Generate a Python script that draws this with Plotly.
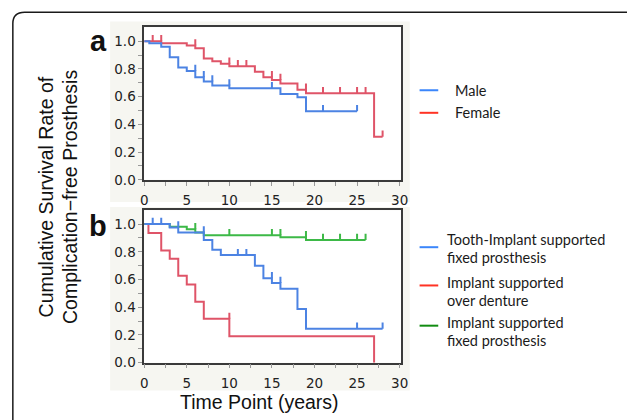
import plotly.graph_objects as go

# ---------------- data ----------------
# Panel a
male_t = [0, 0.6, 2, 3, 4, 5, 6, 7, 8, 10, 16, 18, 19, 25]
male_s = [1.0, 0.985, 0.96, 0.885, 0.81, 0.785, 0.74, 0.71, 0.68, 0.66, 0.62, 0.595, 0.495, 0.495]
male_cens = [6, 7, 8, 10, 15, 21, 25]

fem_t = [0, 2, 5, 6, 7, 8, 9, 10, 13, 14, 15, 16, 18, 19, 27, 28]
fem_s = [1.0, 0.985, 0.97, 0.95, 0.875, 0.855, 0.837, 0.82, 0.78, 0.74, 0.72, 0.695, 0.65, 0.625, 0.31, 0.31]
fem_cens = [1, 2, 6, 10, 11, 12, 15, 16, 19, 21, 23, 25, 26, 28]

# Panel b
tooth_t = [0, 3, 4, 7, 8, 9, 13, 14, 15, 16, 18, 19, 28]
tooth_s = [1.0, 0.976, 0.94, 0.885, 0.815, 0.776, 0.70, 0.61, 0.575, 0.533, 0.387, 0.245, 0.245]
tooth_cens = [1, 2, 4, 7, 11, 12, 15, 16, 25, 28]

over_t = [0, 0.5, 2, 3, 4, 5, 6, 7, 10, 27]
over_s = [1.0, 0.936, 0.81, 0.75, 0.627, 0.564, 0.44, 0.316, 0.19, 0.0]
over_cens = [10]

fixed_t = [0, 3, 5, 6, 7, 16, 19, 26]
fixed_s = [1.0, 0.98, 0.963, 0.94, 0.92, 0.905, 0.885, 0.885]
fixed_cens = [6, 10, 15, 16, 19, 21, 23, 25, 26]

x_ticks = [0, 5, 10, 15, 20, 25, 30]
y_ticks = [0.0, 0.2, 0.4, 0.6, 0.8, 1.0]

legend_a = ["Male", "Female"]
legend_b = [["Tooth-Implant supported", "fixed prosthesis"],
            ["Implant supported", "over denture"],
            ["Implant supported", "fixed prosthesis"]]

# ---------------- styles ----------------
BLUE = "#4c83e3"
RED = "#df5468"
GREEN = "#3db947"
LEG_BLUE = "#3b86fb"
LEG_RED = "#ff3324"
LEG_GREEN = "#118c11"
TICK_H = 0.045

W, H = 627, 420


def px(x):
    return x / W


def py(y):
    return 1 - y / H


def censor_levels(times, surv, cens):
    out = []
    for c in cens:
        lvl = surv[0]
        for t, s in zip(times, surv):
            if t < c:
                lvl = s
        out.append(lvl)
    return out


fig = go.Figure()


def add_series(t, s, cens, color, xa, ya):
    fig.add_trace(go.Scatter(x=t, y=s, mode="lines", line=dict(color=color, width=2, shape="hv"),
                             xaxis=xa, yaxis=ya, hoverinfo="skip"))
    lv = censor_levels(t, s, cens)
    fig.add_trace(go.Scatter(x=cens, y=lv, mode="markers",
                             marker=dict(size=1, color="rgba(0,0,0,0)"),
                             error_y=dict(type="data", symmetric=False,
                                          array=[TICK_H] * len(cens), arrayminus=[0] * len(cens),
                                          width=0, thickness=2, color=color),
                             xaxis=xa, yaxis=ya, hoverinfo="skip"))


add_series(fem_t, fem_s, fem_cens, RED, "x", "y")
add_series(male_t, male_s, male_cens, BLUE, "x", "y")
add_series(over_t, over_s, over_cens, RED, "x2", "y2")
add_series(fixed_t, fixed_s, fixed_cens, GREEN, "x2", "y2")
add_series(tooth_t, tooth_s, tooth_cens, BLUE, "x2", "y2")

PL, PR = 142.7, 404
A_TOP, A_BOT = 27.9, 183.3
B_TOP, B_BOT = 214.3, 369.7
XDOM = [px(PL), px(PR)]
axis_common = dict(showline=True, mirror=True, linecolor="#3a3a3a", linewidth=1.5,
                   ticks="outside", ticklen=4, tickcolor="#999999", tickwidth=1,
                   showgrid=False, zeroline=False,
                   tickfont=dict(family="DejaVu Sans", size=13.5, color="#222222"))

xa = dict(axis_common, range=[0, 30.15], tickmode="array", tickvals=x_ticks,
          ticktext=[str(v) for v in x_ticks], ticklabelstandoff=3,
          minor=dict(tickmode="array", tickvals=[v + 2.5 for v in x_ticks[:-1]],
                     ticks="outside", ticklen=4, tickcolor="#999999"))
ya = dict(axis_common, range=[0, 1.1], tickmode="array", tickvals=y_ticks,
          ticktext=["%.1f" % v for v in y_ticks],
          minor=dict(tickmode="array", tickvals=[round(v + 0.1, 1) for v in y_ticks[:-1]],
                     ticks="outside", ticklen=4, tickcolor="#999999"))

fig.update_layout(
    width=W, height=H, margin=dict(l=0, r=0, t=0, b=0),
    paper_bgcolor="white", plot_bgcolor="rgba(0,0,0,0)", showlegend=False,
    xaxis=dict(xa, domain=XDOM, anchor="y"),
    yaxis=dict(ya, domain=[py(A_BOT), py(A_TOP)], anchor="x"),
    xaxis2=dict(xa, domain=XDOM, anchor="y2"),
    yaxis2=dict(ya, domain=[py(B_BOT), py(B_TOP)], anchor="x2"),
)

shapes = []
# grey panel backgrounds, then white plotting areas
for (y0, y1) in [(22, 206), (211, 398)]:
    shapes.append(dict(type="rect", xref="paper", yref="paper", x0=px(108), x1=px(413),
                       y0=py(y1), y1=py(y0), fillcolor="#f6f6f1", line=dict(width=0), layer="below"))
for (y0, y1) in [(A_TOP, A_BOT), (B_TOP, B_BOT)]:
    shapes.append(dict(type="rect", xref="paper", yref="paper", x0=px(PL), x1=px(PR),
                       y0=py(y1), y1=py(y0), fillcolor="white", line=dict(width=0), layer="below"))
# outer rounded frame (right side lies outside the picture)
path = "M {a},{b} L {a},{c} Q {a},{d} {e},{d} L {f},{d}".format(
    a=px(9), b=py(440), c=py(24), d=py(12.5), e=px(21), f=px(700))
shapes.append(dict(type="path", xref="paper", yref="paper", path=path,
                   line=dict(color="#1a1a1a", width=1.5)))

# legend samples
leg_a_y = [92, 115]
for col, yy in zip([LEG_BLUE, LEG_RED], leg_a_y):
    shapes.append(dict(type="line", xref="paper", yref="paper", x0=px(423), x1=px(442),
                       y0=py(yy), y1=py(yy), line=dict(color=col, width=2)))
leg_b_y = [252, 291, 332]
for col, yy in zip([LEG_BLUE, LEG_RED, LEG_GREEN], leg_b_y):
    shapes.append(dict(type="line", xref="paper", yref="paper", x0=px(423), x1=px(442),
                       y0=py(yy), y1=py(yy), line=dict(color=col, width=2)))
fig.update_layout(shapes=shapes)

ann = []
LEGFONT = dict(family="Lato", size=14.5, color="#1a1a1a")
for txt, yy in zip(legend_a, [92, 115]):
    ann.append(dict(text=txt, x=px(457), y=py(yy), xref="paper", yref="paper",
                    xanchor="left", yanchor="middle", showarrow=False, font=LEGFONT))
for lines, (y1, y2) in zip(legend_b, [(244, 262), (288, 306), (329, 347)]):
    for txt, yy in zip(lines, (y1, y2)):
        ann.append(dict(text=txt, x=px(449), y=py(yy), xref="paper", yref="paper",
                        xanchor="left", yanchor="middle", showarrow=False, font=LEGFONT))

ann.append(dict(text="<b>a</b>", x=px(96), y=py(41.6), xref="paper", yref="paper",
                xanchor="center", yanchor="middle", showarrow=False,
                font=dict(family="Liberation Sans", size=29, color="#111111")))
ann.append(dict(text="<b>b</b>", x=px(96), y=py(230), xref="paper", yref="paper",
                xanchor="center", yanchor="middle", showarrow=False,
                font=dict(family="Liberation Sans", size=29, color="#111111")))

TFONT = dict(family="Liberation Sans", size=19.5, color="#111111")
ann.append(dict(text="Cumulative Survival Rate of", x=px(43), y=py(201), xref="paper", yref="paper",
                xanchor="center", yanchor="middle", textangle=-90, showarrow=False, font=TFONT))
ann.append(dict(text="Complication\u2212free Prosthesis", x=px(67), y=py(201), xref="paper", yref="paper",
                xanchor="center", yanchor="middle", textangle=-90, showarrow=False, font=TFONT))
ann.append(dict(text="Time Point (years)", x=px(260), y=py(410), xref="paper", yref="paper",
                xanchor="center", yanchor="middle", showarrow=False, font=TFONT))
fig.update_layout(annotations=ann)

fig.write_html("out.html", config={"displayModeBar": False},
               post_script="document.body.style.margin='0';document.body.style.overflow='hidden';")
